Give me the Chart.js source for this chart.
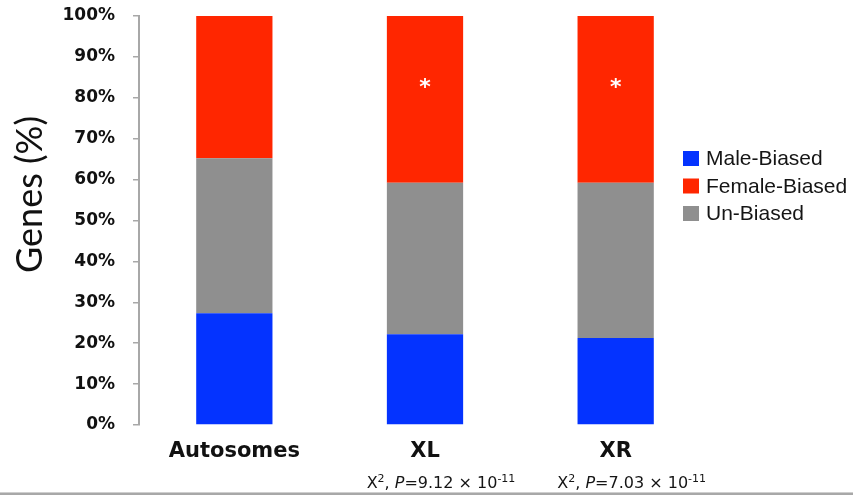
<!DOCTYPE html>
<html>
<head>
<meta charset="utf-8">
<script src="https://cdn.jsdelivr.net/npm/chart.js@4.4.1/dist/chart.umd.min.js"></script>
<style>
  html, body { margin: 0; padding: 0; background: #fff; }
  #wrap { width: 853px; height: 495px; }
</style>
</head>
<body>
<div id="wrap"><canvas id="c" width="853" height="495"></canvas></div>
<script>
// Chromosome classes on the x axis
const categories = ['Autosomes', 'XL', 'XR'];

// Share of genes (%) in each bias class, per chromosome class
const maleBiased   = [27.3, 22.2, 21.3];
const unBiased     = [37.9, 37.0, 37.9];
const femaleBiased = [34.8, 40.8, 40.8];

// Y axis tick values (%)
const yTicks = [0, 10, 20, 30, 40, 50, 60, 70, 80, 90, 100];
const yTitle = 'Genes (%)';

// Chi-square test results printed under each class (mantissa × 10^exponent)
const pMantissa = [null, '9.12', '7.03'];
const pExponent = [null, '-11', '-11'];

// Significance marker height (%) inside the female-biased segment
const starLevel = [null, 83.5, 83.5];

// Legend listing order
const legendOrder = ['Male-Biased', 'Female-Biased', 'Un-Biased'];

const COLORS = { male: '#0433ff', female: '#ff2600', un: '#8f8f8f' };

// Custom legend, axis title, significance stars, P-value captions and frame line
const annotations = {
  id: 'annotations',
  afterDatasetsDraw(chart) {
    const { ctx, scales: { x, y } } = chart;
    ctx.save();
    // white asterisks in significant bars
    ctx.fillStyle = '#ffffff';
    ctx.font = 'bold 22px "DejaVu Sans"';
    ctx.textAlign = 'center';
    ctx.textBaseline = 'alphabetic';
    starLevel.forEach((lv, i) => {
      if (lv == null) return;
      const m = ctx.measureText('*');
      const cy = y.getPixelForValue(lv);
      const base = cy + (m.actualBoundingBoxAscent - m.actualBoundingBoxDescent) / 2;
      ctx.fillText('*', x.getPixelForValue(i), base);
    });
    ctx.restore();
  },
  afterDraw(chart) {
    const { ctx, scales: { x, y } } = chart;
    ctx.save();

    // y axis title, set a little above the axis middle
    ctx.save();
    ctx.translate(30, (y.top + y.bottom) / 2 - 26);
    ctx.rotate(-Math.PI / 2);
    ctx.font = '36px Lato';
    ctx.fillStyle = '#111';
    ctx.textAlign = 'center';
    ctx.textBaseline = 'middle';
    ctx.fillText(yTitle, 0, 0);
    ctx.restore();

    // legend
    const items = chart.data.datasets
      .map(ds => ({ label: ds.label, color: ds.backgroundColor }))
      .sort((a, b) => legendOrder.indexOf(a.label) - legendOrder.indexOf(b.label));
    ctx.font = '21px "Liberation Sans"';
    ctx.textBaseline = 'middle';
    ctx.textAlign = 'left';
    items.forEach((it, k) => {
      const cy = 158.5 + k * 27.5;
      ctx.fillStyle = it.color;
      ctx.fillRect(683, cy - 7.5, 16, 15);
      ctx.fillStyle = '#151515';
      ctx.fillText(it.label, 706, cy + 1);
    });

    // P-value captions
    const baseY = 488;
    pMantissa.forEach((mant, i) => {
      if (mant == null) return;
      const parts = [
        { t: 'X', f: '16px "DejaVu Sans"', dy: 0 },
        { t: '2', f: '11px "DejaVu Sans"', dy: -6 },
        { t: ', ', f: '16px "DejaVu Sans"', dy: 0 },
        { t: 'P', f: 'italic 16px "DejaVu Sans"', dy: 0 },
        { t: '=' + mant + ' \u00d7 10', f: '16px "DejaVu Sans"', dy: 0 },
        { t: pExponent[i], f: '11px "DejaVu Sans"', dy: -6 }
      ];
      let total = 0;
      parts.forEach(p => { ctx.font = p.f; p.w = ctx.measureText(p.t).width; total += p.w; });
      let cx = x.getPixelForValue(i) + 16 - total / 2;
      ctx.fillStyle = '#151515';
      ctx.textBaseline = 'alphabetic';
      parts.forEach(p => {
        ctx.font = p.f;
        ctx.fillText(p.t, cx, baseY + p.dy);
        cx += p.w;
      });
    });

    // thin frame line along the bottom edge
    ctx.fillStyle = '#cfcfcf';
    ctx.fillRect(0, 492, chart.width, 1);
    ctx.fillStyle = '#a8a8a8';
    ctx.fillRect(0, 493, chart.width, 2);
    ctx.restore();
  }
};

new Chart(document.getElementById('c'), {
  type: 'bar',
  data: {
    labels: categories,
    datasets: [
      { label: 'Male-Biased',   data: maleBiased,   backgroundColor: COLORS.male },
      { label: 'Un-Biased',     data: unBiased,     backgroundColor: COLORS.un },
      { label: 'Female-Biased', data: femaleBiased, backgroundColor: COLORS.female }
    ]
  },
  options: {
    responsive: false,
    animation: false,
    devicePixelRatio: 1,
    layout: { padding: { top: 16, right: 142, left: 0, bottom: 0 } },
    datasets: { bar: { barPercentage: 0.4, categoryPercentage: 1.0, borderWidth: 0 } },
    plugins: { legend: { display: false }, tooltip: { enabled: false } },
    scales: {
      x: {
        stacked: true,
        grid: { display: false, drawTicks: false },
        border: { display: false },
        ticks: {
          color: '#111',
          font: { family: 'DejaVu Sans', weight: 'bold', size: 21 },
          padding: 14
        },
        afterFit(scale) { scale.height = 70; }
      },
      y: {
        stacked: true,
        min: 0,
        max: 100,
        afterBuildTicks(scale) { scale.ticks = yTicks.map(v => ({ value: v })); },
        grid: { drawOnChartArea: false, drawTicks: true, tickLength: 6, color: '#a8a8a8', lineWidth: 1.5 },
        border: { color: '#a8a8a8', width: 2 },
        ticks: {
          color: '#111',
          font: { family: 'DejaVu Sans', weight: 'bold', size: 17 },
          padding: 18,
          callback: v => v + '%'
        },
        afterFit(scale) {
          scale.width = 139;
          scale.paddingTop = 10;
          scale.paddingBottom = 10;
        }
      }
    }
  },
  plugins: [annotations]
});
</script>
</body>
</html>
